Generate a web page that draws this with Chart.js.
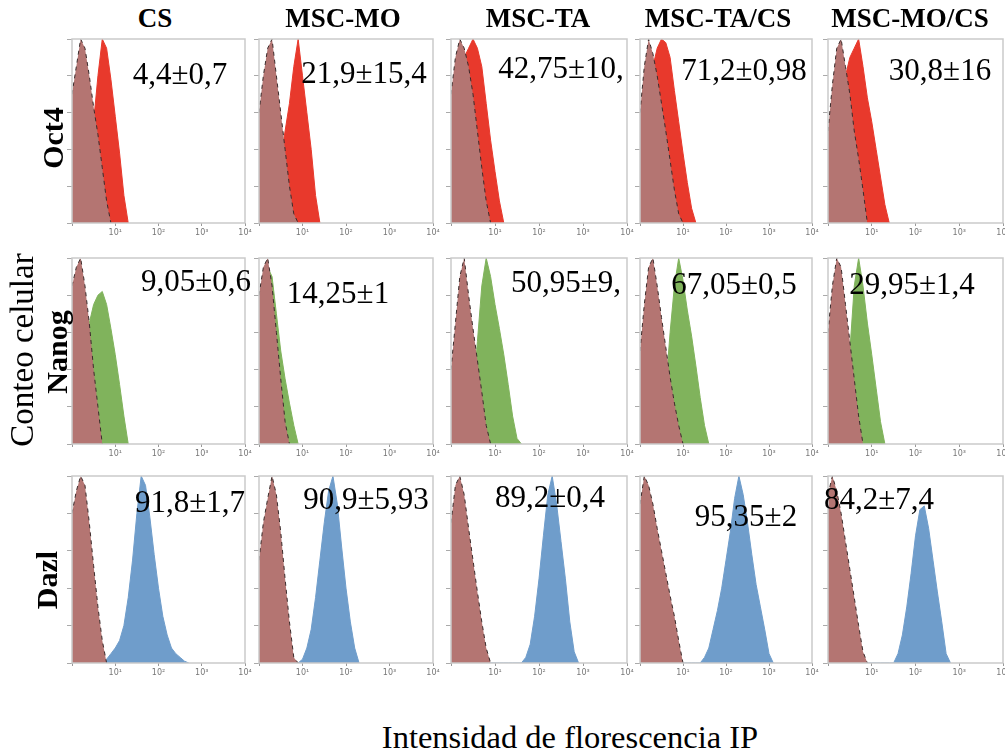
<!DOCTYPE html>
<html>
<head>
<meta charset="utf-8">
<script src="https://cdn.jsdelivr.net/npm/chart.js@4"></script>
<style>
  body { margin: 0; background: #fff; }
  #wrap { position: relative; width: 1005px; height: 751px; overflow: hidden; font-family: "Liberation Serif", "Times New Roman", serif; color: #000; }
  #wrap canvas { position: absolute; }
  .lbl { position: absolute; transform: translate(-50%, -50%); white-space: nowrap; line-height: 1; z-index: 2; }
  .head { font-weight: bold; font-size: 27px; }
  .stat { font-size: 31px; }
  .row { font-weight: bold; font-size: 30px; transform: translate(-50%, -50%) rotate(-90deg); }
  .ytitle { font-size: 33px; transform: translate(-50%, -50%) rotate(-90deg); }
  .axis { font-size: 32.5px; }
</style>
</head>
<body>
<div id="wrap"></div>
<script>
// x in decades of fluorescence (10^0 .. 10^4), y in % of panel height
const bins = [0, 0.1, 0.2, 0.3, 0.4, 0.5, 0.6, 0.7, 0.8, 0.9, 1.0, 1.1, 1.2, 1.3, 1.4, 1.5,
              1.6, 1.7, 1.8, 1.9, 2.0, 2.1, 2.2, 2.3, 2.4, 2.5, 2.6, 2.7, 2.8, 2.9, 3.0, 3.1];

const columns = ["CS", "MSC-MO", "MSC-TA", "MSC-TA/CS", "MSC-MO/CS"];
const markers = ["Oct4", "Nanog", "Dazl"];
const xTickLabels = ["", "10¹", "10²", "10³", "10⁴"];

const oct4Stats  = ["4,4±0,7", "21,9±15,4", "42,75±10,", "71,2±0,98", "30,8±16"];
const nanogStats = ["9,05±0,6", "14,25±1", "50,95±9,", "67,05±0,5", "29,95±1,4"];
const dazlStats  = ["91,8±1,7", "90,9±5,93", "89,2±0,4", "95,35±2", "84,2±7,4"];

// isotype control (brown)
const oct4Control = [
  [70, 85, 100, 95, 80, 63, 48, 30, 12, 0],
  [60, 80, 95, 100, 80, 60, 40, 20, 5, 0],
  [70, 90, 100, 95, 85, 70, 50, 30, 12, 0],
  [60, 85, 100, 92, 80, 65, 50, 34, 18, 5, 0],
  [50, 75, 95, 100, 85, 70, 50, 35, 18, 0]
];
const nanogControl = [
  [85, 95, 100, 85, 65, 40, 20, 0],
  [80, 95, 100, 85, 60, 35, 12, 0],
  [40, 65, 90, 100, 80, 62, 45, 28, 10, 0],
  [50, 75, 95, 100, 85, 68, 52, 36, 22, 10, 0],
  [60, 85, 100, 95, 75, 55, 35, 15, 0]
];
const dazlControl = [
  [80, 92, 100, 95, 75, 52, 30, 12, 0],
  [55, 75, 88, 100, 90, 70, 45, 22, 3, 0],
  [75, 95, 100, 90, 72, 55, 38, 22, 8, 0],
  [85, 100, 95, 85, 72, 60, 48, 36, 25, 12, 0],
  [90, 100, 92, 80, 65, 50, 35, 20, 6, 0]
];

// stained samples
const oct4Stain = [
  [0, 10, 20, 30, 40, 55, 80, 100, 95, 78, 58, 38, 15, 0],
  [0, 5, 10, 15, 25, 35, 50, 65, 85, 100, 80, 60, 40, 15, 0],
  [40, 60, 80, 90, 95, 100, 95, 85, 65, 45, 28, 12, 0],
  [30, 50, 70, 85, 95, 100, 98, 90, 72, 55, 38, 22, 8, 0],
  [20, 35, 50, 65, 80, 90, 95, 100, 85, 68, 55, 40, 25, 10, 0]
];
const nanogStain = [
  [10, 20, 35, 50, 65, 75, 80, 82, 75, 62, 48, 32, 15, 0],
  [60, 80, 95, 90, 70, 50, 35, 22, 10, 0],
  [0, 0, 5, 10, 15, 25, 55, 85, 100, 90, 75, 62, 48, 32, 15, 3, 0],
  [0, 0, 5, 10, 15, 20, 30, 60, 85, 100, 88, 72, 58, 42, 25, 10, 0],
  [0, 0, 5, 10, 20, 50, 85, 100, 85, 65, 48, 30, 12, 0]
];
const dazlStain = [
  [0, 0, 0, 0, 0, 0, 0, 0, 2, 5, 8, 12, 20, 35, 55, 80, 100, 95, 78, 58, 40, 25, 15, 8, 5, 3, 1, 0],
  [0, 0, 0, 0, 0, 0, 0, 0, 0, 0, 2, 8, 18, 35, 55, 75, 92, 100, 85, 62, 40, 22, 8, 0],
  [0, 0, 0, 0, 0, 0, 0, 0, 0, 0, 0, 0, 0, 0, 0, 0, 0, 3, 10, 25, 45, 68, 90, 100, 85, 65, 45, 22, 6, 0],
  [0, 0, 0, 0, 0, 0, 0, 0, 0, 0, 0, 0, 0, 0, 0, 3, 8, 18, 28, 40, 55, 70, 88, 100, 90, 75, 58, 42, 30, 18, 5, 0],
  [0, 0, 0, 0, 0, 0, 0, 0, 0, 0, 0, 0, 0, 0, 0, 0, 5, 15, 30, 48, 68, 82, 84, 72, 55, 38, 22, 5, 0]
];

const rowsData = [
  { control: oct4Control, stain: oct4Stain, stats: oct4Stats, color: "#e8392c" },
  { control: nanogControl, stain: nanogStain, stats: nanogStats, color: "#80b35c" },
  { control: dazlControl, stain: dazlStain, stats: dazlStats, color: "#6f9dcb" }
];

// layout (pixels)
const panelLeft = [72, 259, 451, 640, 828];
const panelWidth = [173, 174, 176, 172, 175];
const panelTop = [39, 258, 476];
const panelHeight = [184, 186, 187];
const headX = [155, 343, 538, 718, 910];
const statPos = [
  [[180, 73], [364, 72], [561, 67], [744, 69], [940, 69]],
  [[196, 280], [338, 292], [566, 281], [734, 283], [912, 283]],
  [[190, 501], [366, 498], [550, 496], [746, 515], [879, 498]]
];
const rowLabelPos = [[53, 138], [57, 352], [47, 580]];

const wrap = document.getElementById("wrap");

function addText(cls, text, x, y) {
  const d = document.createElement("div");
  d.className = "lbl " + cls;
  d.textContent = text;
  d.style.left = x + "px";
  d.style.top = y + "px";
  wrap.appendChild(d);
  return d;
}

const boxPlugin = {
  id: "box",
  afterDatasetsDraw(chart) {
    const a = chart.chartArea, ctx = chart.ctx;
    ctx.save();
    ctx.strokeStyle = "#cacaca";
    ctx.lineWidth = 1.5;
    ctx.strokeRect(a.left, a.top, a.right - a.left, a.bottom - a.top);
    ctx.restore();
  }
};

function toPoints(vals) {
  return vals.map((v, i) => ({ x: bins[i], y: v }));
}

function makePanel(r, c) {
  const row = rowsData[r];
  const cv = document.createElement("canvas");
  const w = panelWidth[c] + 10 + 14, h = panelHeight[r] + 2 + 20;
  cv.width = w; cv.height = h;
  cv.style.left = (panelLeft[c] - 10) + "px";
  cv.style.top = (panelTop[r] - 2) + "px";
  cv.style.width = w + "px"; cv.style.height = h + "px";
  wrap.appendChild(cv);

  new Chart(cv, {
    type: "line",
    data: {
      datasets: [
        {
          label: "control",
          data: toPoints(row.control[c]),
          order: 0,
          borderColor: "#3b2b2b",
          borderWidth: 1,
          borderDash: [4, 4],
          backgroundColor: "#b47572",
          fill: "origin",
          pointRadius: 0,
          tension: 0
        },
        {
          label: markers[r],
          data: toPoints(row.stain[c]),
          order: 1,
          borderColor: row.color,
          borderWidth: 1,
          backgroundColor: row.color,
          fill: "origin",
          pointRadius: 0,
          tension: 0
        }
      ]
    },
    options: {
      responsive: false,
      animation: false,
      devicePixelRatio: 1,
      layout: { padding: { top: 2, right: 14, left: 0, bottom: 0 } },
      plugins: { legend: { display: false }, tooltip: { enabled: false } },
      scales: {
        x: {
          type: "linear", min: 0, max: 4,
          afterFit: s => { s.height = 20; },
          border: { display: false },
          grid: { drawOnChartArea: false, tickLength: 3, color: "#999" },
          ticks: {
            stepSize: 1, autoSkip: false, maxRotation: 0, padding: 2,
            font: { size: 8, family: "DejaVu Sans" }, color: "#777",
            callback: v => xTickLabels[v] ?? ""
          }
        },
        y: {
          min: 0, max: 100,
          afterFit: s => { s.width = 10; },
          border: { display: false },
          grid: { drawOnChartArea: false, tickLength: 5, color: "#aaa" },
          ticks: { stepSize: 20, display: false }
        }
      }
    },
    plugins: [boxPlugin]
  });
}

for (let r = 0; r < 3; r++) {
  for (let c = 0; c < 5; c++) {
    makePanel(r, c);
    addText("stat", rowsData[r].stats[c], statPos[r][c][0], statPos[r][c][1]);
  }
  addText("row", markers[r], rowLabelPos[r][0], rowLabelPos[r][1]);
}
columns.forEach((name, c) => addText("head", name, headX[c], 18));
addText("ytitle", "Conteo celular", 22, 350);
addText("axis", "Intensidad de florescencia IP", 570, 737);
</script>
</body>
</html>
